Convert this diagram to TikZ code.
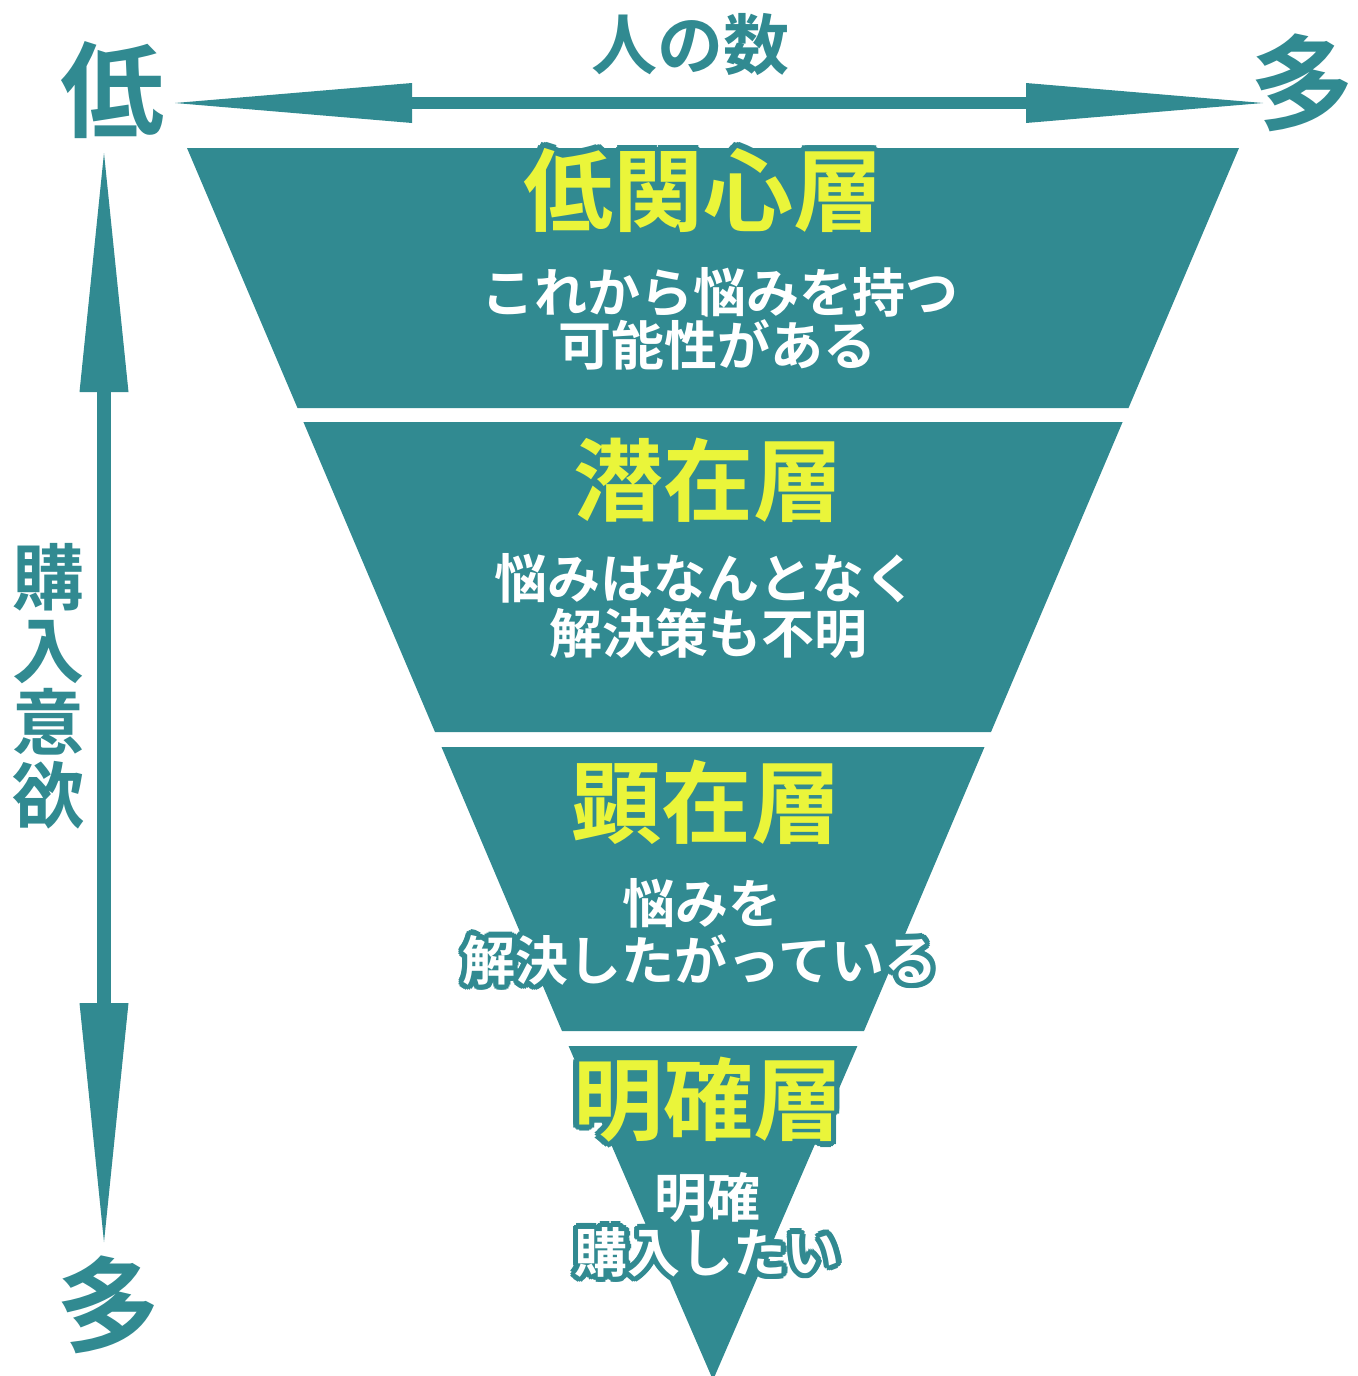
\documentclass[tikz,border=0pt]{standalone}
\usepackage{fontspec}
\newfontfamily\jp{Noto Sans CJK JP}[BoldFont=* Bold]
\usetikzlibrary{arrows.meta,calc}
\definecolor{teal0}{RGB}{49,138,145}
\definecolor{yel}{RGB}{234,245,58}
\newcommand\otext[5]{%
  \foreach \a in {0,22.5,...,337.5}{\node[font=\jp\bfseries#3,text=teal0,inner sep=0pt] at ($(#2)+(\a:5.5)$) {#5};}
  \node[font=\jp\bfseries#3,text=#4,inner sep=0pt] (#1) at (#2) {#5};}
\tikzset{
  layer/.style={fill=teal0},
  sidelabel/.style={font=\jp\bfseries\fontsize{#1}{#1}\selectfont,text=teal0,inner sep=0pt},
  axisarrow/.style={draw=teal0,line width=#1}
}
\newcommand\tsize{\fontsize{45pt}{45pt}\selectfont}
\newcommand\dsize{\fontsize{26.5pt}{26.5pt}\selectfont}
\begin{document}
\begin{tikzpicture}[x=0.5pt,y=-0.5pt]
\useasboundingbox (0,0) rectangle (1358,1376);
% funnel layers
\fill[layer] (187,148) -- (1239,148) -- (1128.5,408) -- (297.5,408) -- cycle;
\fill[layer] (303.4,422) -- (1122.6,422) -- (991,732) -- (435,732) -- cycle;
\fill[layer] (441.5,747) -- (984.5,747) -- (864,1031) -- (562,1031) -- cycle;
\fill[layer] (568.6,1046) -- (857.4,1046) -- (713,1380) -- cycle;
% axis labels
\node[sidelabel=52pt] (low) at (112,90) {低};
\node[sidelabel=52pt] (manyR) at (1302,83) {多};
\node[sidelabel=52pt] (manyB) at (108,1305) {多};
\node[sidelabel=33pt] (people) at (690,45) {人の数};
\node[sidelabel=36pt] (v1) at (48,577) {購};
\node[sidelabel=36pt] (v2) at (48,652) {入};
\node[sidelabel=36pt] (v3) at (48,722) {意};
\node[sidelabel=36pt] (v4) at (48,795) {欲};
% arrows
\coordinate (hl) at (175,103);
\coordinate (hr) at (1263,103);
\coordinate (vt) at (104,153);
\coordinate (vb) at (104,1242);
\draw[axisarrow=6pt,{Triangle[length=118.5pt,width=20pt,line width=0pt]}-{Triangle[length=118.5pt,width=20pt,line width=0pt]},teal0] (hl) -- (hr);
\draw[axisarrow=7pt,{Triangle[length=119.5pt,width=24.5pt,line width=0pt]}-{Triangle[length=119.5pt,width=24.5pt,line width=0pt]},teal0] (vt) -- (vb);
% titles
\otext{t1}{703,190}{\tsize}{yel}{低関心層}
\otext{t2}{708,480}{\tsize}{yel}{潜在層}
\otext{t3}{706,802}{\tsize}{yel}{顕在層}
\otext{t4}{708,1100}{\tsize}{yel}{明確層}
% descriptions
\otext{d1a}{720,292}{\dsize}{white}{これから悩みを持つ}
\otext{d1b}{717,345}{\dsize}{white}{可能性がある}
\otext{d2a}{706,578}{\dsize}{white}{悩みはなんとなく}
\otext{d2b}{708,633}{\dsize}{white}{解決策も不明}
\otext{d3a}{702,903}{\dsize}{white}{悩みを}
\otext{d3b}{700,960}{\dsize}{white}{解決したがっている}
\otext{d4a}{707,1198}{\dsize}{white}{明確}
\otext{d4b}{707,1252}{\dsize}{white}{購入したい}
\end{tikzpicture}
\end{document}
